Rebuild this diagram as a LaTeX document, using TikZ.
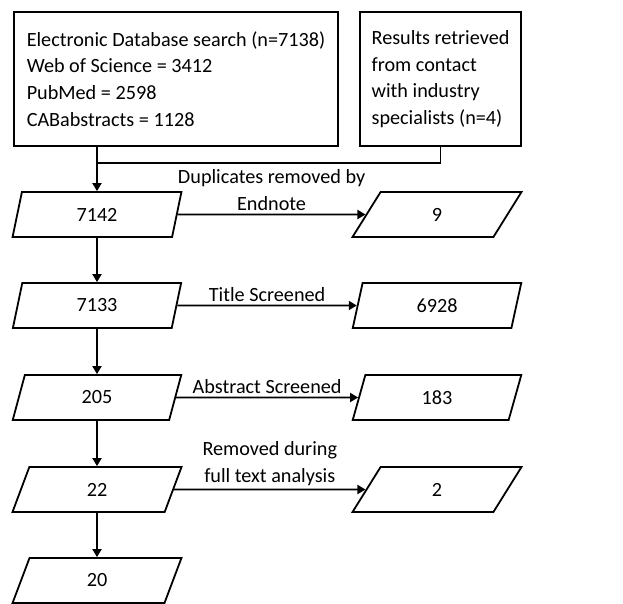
\documentclass[tikz,border=0pt]{standalone}
\usepackage{fontspec}
\setmainfont{Carlito}
\usetikzlibrary{positioning, arrows.meta, calc, shapes.geometric}

\begin{document}
\begin{tikzpicture}[x=1pt, y=-1pt, line width=1.8pt, font=\fontsize{20.2}{26.7}\selectfont,
    quelle/.style={draw, rectangle, align=left, inner sep=0pt, minimum height=134pt},
    zahl/.style={draw, trapezium, trapezium left angle=79, trapezium right angle=101,
        trapezium stretches=true, minimum width=169pt, minimum height=45pt, inner sep=0pt},
    pfeil/.style={-{Triangle[length=8pt,width=9pt]}},
    schritt/.style={above, inner sep=3pt, align=center}]
    % Seitenrand wie im Original
    \useasboundingbox (0,0) rectangle (623,603);

    % --- QUELLEN ---
    \node[quelle, minimum width=324pt] (suche) at (176,79)
        {Electronic Database search (n=7138)\\Web of Science = 3412\\PubMed = 2598\\CABabstracts = 1128};
    \node[quelle, minimum width=161pt] (kontakt) at (440.5,79)
        {Results retrieved\\from contact\\with industry\\specialists (n=4)};

    % --- LINKE SPALTE (verbleibend) ---
    \node[zahl] (n1) at (97,214.5) {7142};
    \node[zahl] (n2) at (97,305.5) {7133};
    \node[zahl] (n3) at (97,397.5) {205};
    \node[zahl] (n4) at (97,489.5) {22};
    \node[zahl] (n5) at (97,580.5) {20};

    % --- RECHTE SPALTE (entfernt) ---
    \node[zahl] (r1) at (437,214.5) {9};
    \node[zahl] (r2) at (437,305.5) {6928};
    \node[zahl] (r3) at (437,397.5) {183};
    \node[zahl] (r4) at (437,489.5) {2};

    % Zusammenfuehrung der Quellen
    \coordinate (knoten) at (n1.north |- 0,163);
    \draw (kontakt.south) |- (knoten);
    \draw[pfeil] (suche.south -| n1.north) -- (n1.north);

    % Pfeile nach unten
    \foreach \a/\b in {n1/n2, n2/n3, n3/n4, n4/n5}
        \draw[pfeil] (\a.south) -- (\b.north);

    % Pfeile nach rechts mit Beschriftung
    \draw[pfeil] (n1.east) -- node[schritt] {Duplicates removed by\\Endnote} (r1.west);
    \draw[pfeil] (n2.east) -- node[schritt] {Title Screened} (r2.west);
    \draw[pfeil] (n3.east) -- node[schritt] {Abstract Screened} (r3.west);
    \draw[pfeil] (n4.east) -- node[schritt] {Removed during\\full text analysis} (r4.west);

\end{tikzpicture}
\end{document}
